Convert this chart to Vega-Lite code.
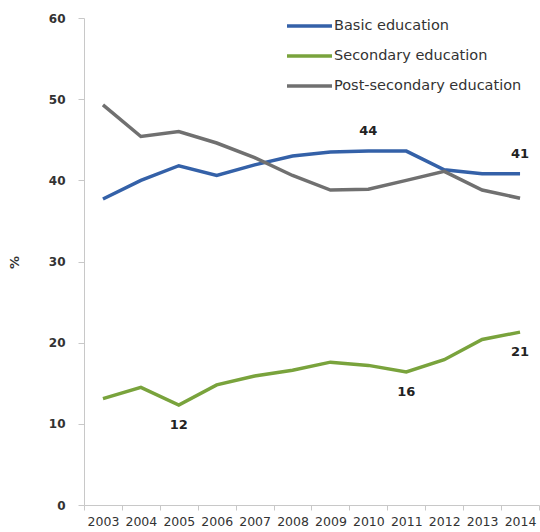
{
  "$schema": "https://vega.github.io/schema/vega-lite/v6.json",
  "width": 455,
  "height": 487,
  "autosize": "none",
  "padding": {"left": 84, "top": 18, "right": 1, "bottom": 27},
  "background": "white",
  "config": {
    "view": {"stroke": null},
    "font": "DejaVu Sans",
    "axis": {"grid": false, "domainColor": "#C8C8C8", "tickColor": "#C8C8C8", "labelColor": "#333333"}
  },
  "data": {
    "values": [
      {"year": "2003", "series": "Basic education", "value": 37.7},
      {"year": "2004", "series": "Basic education", "value": 40.0},
      {"year": "2005", "series": "Basic education", "value": 41.8},
      {"year": "2006", "series": "Basic education", "value": 40.6},
      {"year": "2007", "series": "Basic education", "value": 41.9},
      {"year": "2008", "series": "Basic education", "value": 43.0},
      {"year": "2009", "series": "Basic education", "value": 43.5},
      {"year": "2010", "series": "Basic education", "value": 43.6, "label": "44", "pos": "above"},
      {"year": "2011", "series": "Basic education", "value": 43.6},
      {"year": "2012", "series": "Basic education", "value": 41.3},
      {"year": "2013", "series": "Basic education", "value": 40.8},
      {"year": "2014", "series": "Basic education", "value": 40.8, "label": "41", "pos": "above"},
      {"year": "2003", "series": "Secondary education", "value": 13.1},
      {"year": "2004", "series": "Secondary education", "value": 14.5},
      {"year": "2005", "series": "Secondary education", "value": 12.3, "label": "12", "pos": "below"},
      {"year": "2006", "series": "Secondary education", "value": 14.8},
      {"year": "2007", "series": "Secondary education", "value": 15.9},
      {"year": "2008", "series": "Secondary education", "value": 16.6},
      {"year": "2009", "series": "Secondary education", "value": 17.6},
      {"year": "2010", "series": "Secondary education", "value": 17.2},
      {"year": "2011", "series": "Secondary education", "value": 16.4, "label": "16", "pos": "below"},
      {"year": "2012", "series": "Secondary education", "value": 17.9},
      {"year": "2013", "series": "Secondary education", "value": 20.4},
      {"year": "2014", "series": "Secondary education", "value": 21.3, "label": "21", "pos": "below"},
      {"year": "2003", "series": "Post-secondary education", "value": 49.3},
      {"year": "2004", "series": "Post-secondary education", "value": 45.4},
      {"year": "2005", "series": "Post-secondary education", "value": 46.0},
      {"year": "2006", "series": "Post-secondary education", "value": 44.6},
      {"year": "2007", "series": "Post-secondary education", "value": 42.8},
      {"year": "2008", "series": "Post-secondary education", "value": 40.6},
      {"year": "2009", "series": "Post-secondary education", "value": 38.8},
      {"year": "2010", "series": "Post-secondary education", "value": 38.9},
      {"year": "2011", "series": "Post-secondary education", "value": 40.0},
      {"year": "2012", "series": "Post-secondary education", "value": 41.1},
      {"year": "2013", "series": "Post-secondary education", "value": 38.8},
      {"year": "2014", "series": "Post-secondary education", "value": 37.8}
    ]
  },
  "encoding": {
    "x": {
      "field": "year", "type": "ordinal",
      "scale": {"type": "band", "paddingInner": 0, "paddingOuter": 0},
      "axis": {"title": null, "labelAngle": 0, "tickBand": "extent", "tickSize": 5, "labelFontSize": 12.5, "labelPadding": 5}
    },
    "y": {
      "field": "value", "type": "quantitative",
      "scale": {"domain": [0, 60], "nice": false},
      "axis": {"values": [0, 10, 20, 30, 40, 50, 60], "tickSize": 6, "labelPadding": 13, "labelFontSize": 12, "labelFontWeight": "bold", "title": "%", "titleFontSize": 13, "titleFontWeight": "bold", "titleColor": "#333333", "titleX": -63, "titleY": 244, "titleAngle": -90}
    }
  },
  "layer": [
    {
      "mark": {"type": "line", "strokeWidth": 3.5},
      "encoding": {
        "color": {
          "field": "series", "type": "nominal",
          "scale": {"domain": ["Basic education", "Secondary education", "Post-secondary education"], "range": ["#3461A8", "#79A33C", "#707070"]},
          "legend": {"title": null, "orient": "none", "legendX": 201, "legendY": 0, "symbolType": "stroke", "symbolSize": 2025, "symbolStrokeWidth": 3.5, "clipHeight": 16, "rowPadding": 14, "labelFontSize": 14.5, "labelLimit": 400, "labelColor": "#333333", "labelOffset": 0}
        }
      }
    },
    {
      "transform": [{"filter": "datum.pos === 'above'"}],
      "mark": {"type": "text", "dy": -20, "fontSize": 13, "fontWeight": "bold", "color": "#222222"},
      "encoding": {"text": {"field": "label"}}
    },
    {
      "transform": [{"filter": "datum.pos === 'below'"}],
      "mark": {"type": "text", "dy": 20, "fontSize": 13, "fontWeight": "bold", "color": "#222222"},
      "encoding": {"text": {"field": "label"}}
    }
  ]
}
